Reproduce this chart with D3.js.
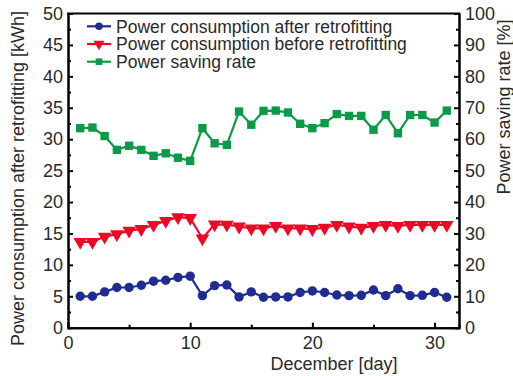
<!DOCTYPE html>
<html><head><meta charset="utf-8">
<script src="https://cdn.jsdelivr.net/npm/d3@7"></script>
<style>
html,body{margin:0;padding:0;background:#fff;}
svg{display:block;font-family:"Liberation Sans",Arial,sans-serif;}
</style></head>
<body>
<svg id="c" width="513" height="376"></svg>
<script>
const days = d3.range(1, 32);
const afterKWh = [5.0,5.0,5.7,6.4,6.4,6.75,7.4,7.55,8.0,8.2,5.1,6.7,6.8,4.9,5.7,4.85,4.9,4.9,5.6,5.85,5.6,5.2,5.1,5.15,6.0,5.1,6.2,5.1,5.15,5.6,4.85];
const beforeKWh = [13.65,13.65,14.5,14.9,15.45,15.7,16.35,17.0,17.6,17.45,14.2,16.45,16.4,16.1,15.8,15.8,16.2,15.8,15.8,15.7,15.9,16.35,16.1,15.9,16.2,16.35,16.2,16.35,16.35,16.35,16.35];
const savingRate = [63.5,63.7,61.0,56.6,57.9,56.6,54.7,55.5,54.1,53.1,63.5,58.7,58.2,68.8,64.6,69.0,69.1,68.5,64.9,63.5,65.1,68.0,67.4,67.4,63.0,67.7,61.9,67.7,67.7,65.3,69.1];
const xTicks = [0,10,20,30];
const leftTicks = [0,5,10,15,20,25,30,35,40,45,50];
const rightTicks = [0,10,20,30,40,50,60,70,80,90,100];
const seriesNames = ["Power consumption after retrofitting","Power consumption before retrofitting","Power saving rate"];

const svg = d3.select("#c");
const L = 68, R = 459, T = 13.5, B = 327.7;
const x = d3.scaleLinear().domain([0,32]).range([L,R]);
const yL = d3.scaleLinear().domain([0,50]).range([B,T]);
const yR = d3.scaleLinear().domain([0,100]).range([B,T]);
const txt = "#2a2a2a";

function styleAxis(g){
  g.select(".domain").attr("stroke","#000").attr("stroke-width",2);
  g.selectAll(".tick line").attr("stroke","#000").attr("stroke-width",2);
  g.selectAll(".tick text").attr("fill",txt).attr("font-size",18).attr("font-family","Liberation Sans, Arial, sans-serif");
}

// minor ticks
svg.append("g").attr("transform",`translate(0,${B})`)
  .call(d3.axisBottom(x).tickValues([5,15,25]).tickSize(-3).tickFormat("")).call(styleAxis);
svg.append("g").attr("transform",`translate(${L},0)`)
  .call(d3.axisLeft(yL).tickValues(d3.range(2.5,50,5)).tickSize(-3).tickFormat("")).call(styleAxis);
svg.append("g").attr("transform",`translate(${R},0)`)
  .call(d3.axisRight(yR).tickValues(d3.range(5,100,10)).tickSize(-3).tickFormat("")).call(styleAxis);

// major
svg.append("g").attr("transform",`translate(0,${B})`)
  .call(d3.axisBottom(x).tickValues(xTicks).tickSize(-5).tickPadding(9).tickSizeOuter(0)).call(styleAxis);
svg.append("g").attr("transform",`translate(${L},0)`)
  .call(d3.axisLeft(yL).tickValues(leftTicks).tickSize(-5).tickPadding(5).tickSizeOuter(0)).call(styleAxis);
svg.append("g").attr("transform",`translate(${R},0)`)
  .call(d3.axisRight(yR).tickValues(rightTicks).tickSize(-5).tickPadding(6).tickSizeOuter(0)).call(styleAxis);
// top border
svg.append("line").attr("x1",L-1).attr("x2",R+1).attr("y1",T).attr("y2",T).attr("stroke","#000").attr("stroke-width",2);

const colors = ["#1f2d93","#ea0a25","#0b9a45"];
const blue = colors[0], red = colors[1], green = colors[2];

const line = (ys, yscale) => d3.line().x((d,i)=>x(days[i])).y(d=>yscale(d))(ys);
const symCircle = d3.symbol().type(d3.symbolCircle).size(70)();
const symSquare = d3.symbol().type(d3.symbolSquare).size(70)();
const symTri = d3.symbol().type(d3.symbolTriangle).size(80)();

function drawSeries(ys, yscale, color, sym, rot){
  svg.append("path").attr("d", line(ys, yscale)).attr("fill","none").attr("stroke",color).attr("stroke-width",2.2);
  svg.append("g").selectAll("path").data(ys).join("path")
    .attr("d", sym)
    .attr("transform",(d,i)=>`translate(${x(days[i])},${yscale(d)}) rotate(${rot})`)
    .attr("fill",color);
}
drawSeries(savingRate, yR, green, symSquare, 0);
drawSeries(beforeKWh, yL, red, symTri, 180);
drawSeries(afterKWh, yL, blue, symCircle, 0);

// legend
const legY = [26.3, 44, 61.7];
const syms = [[symCircle,0],[symTri,180],[symSquare,0]];
seriesNames.forEach((n,i)=>{
  const g = svg.append("g");
  g.append("line").attr("x1",87).attr("x2",111).attr("y1",legY[i]).attr("y2",legY[i]).attr("stroke",colors[i]).attr("stroke-width",2.2);
  g.append("path").attr("d",syms[i][0]).attr("transform",`translate(99,${legY[i]}) rotate(${syms[i][1]}) scale(0.8)`).attr("fill",colors[i]);
  g.append("text").attr("x",116).attr("y",legY[i]+6.3).attr("font-size",17.5).attr("fill",txt).text(n);
});

// titles
svg.append("text").attr("x",334).attr("y",370).attr("text-anchor","middle").attr("font-size",18).attr("fill",txt).text("December [day]");
svg.append("text").attr("transform","translate(24,178.5) rotate(-90)").attr("text-anchor","middle").attr("font-size",18).attr("fill",txt).text("Power consumption after retrofitting [kWh]");
svg.append("text").attr("transform","translate(510,107) rotate(-90)").attr("text-anchor","middle").attr("font-size",18).attr("fill",txt).text("Power saving rate [%]");
</script>
</body></html>
